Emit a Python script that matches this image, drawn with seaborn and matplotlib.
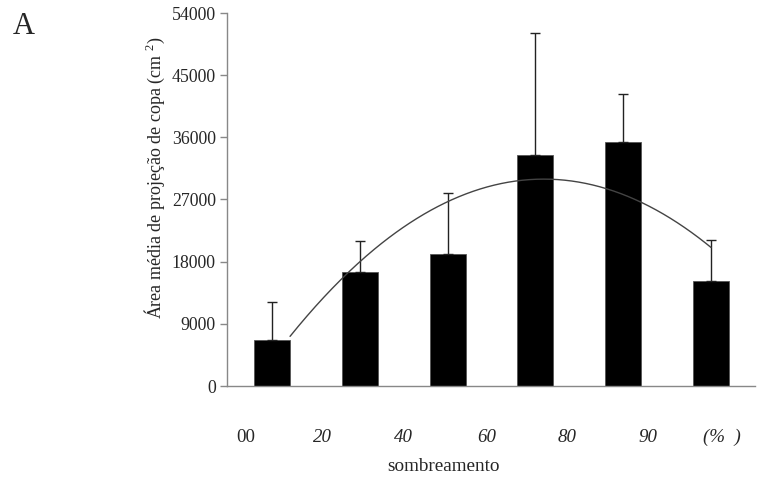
import numpy as np
import pandas as pd
import matplotlib
matplotlib.use("Agg")
import matplotlib.pyplot as plt
import seaborn as sns

# ---- data ----
categories = ["00", "20", "40", "60", "80", "90"]
means = [6660, 16500, 19100, 33450, 35300, 15200]
upper = [12160, 21000, 27900, 51100, 42300, 21100]
yticks = [0, 9000, 18000, 27000, 36000, 45000, 54000]
italic_labels = [False, True, True, True, True, True]
unit_label = "(%  )"

sns.set_theme(style="white")
plt.rcParams["font.family"] = ["Liberation Serif", "DejaVu Serif"]
plt.rcParams["mathtext.fontset"] = "custom"
plt.rcParams["mathtext.rm"] = "Liberation Serif"
plt.rcParams["mathtext.it"] = "Liberation Serif:italic"

W, H = 772, 486
fig = plt.figure(figsize=(W / 100, H / 100), dpi=100)
ax = fig.add_axes([227 / W, 1 - 386 / H, (755 - 227) / W, (386 - 13) / H])

df = pd.DataFrame({"cat": categories, "mean": means})
sns.barplot(data=df, x="cat", y="mean", color="black", width=0.41,
            edgecolor="#555555", linewidth=0.6, errorbar=None, ax=ax,
            saturation=1)

xpos = np.arange(len(categories))
m = np.array(means)
err_up = np.array(upper) - m
ax.errorbar(xpos, m, yerr=[np.zeros_like(m), err_up], fmt="none",
            ecolor="#222222", elinewidth=1.0, capsize=3.5, capthick=1.0)

# polynomial (order 2) trend line fitted to the means
coef = np.polyfit(xpos, m, 2)
xs = np.linspace(0.205, 5.0, 300)
ax.plot(xs, np.polyval(coef, xs), color="#444444", lw=1.0)

ax.set_xlim(-0.513, 5.5)
ax.set_ylim(0, 54000)
ax.set_yticks(yticks)
ax.set_yticklabels([str(v) for v in yticks], fontsize=12.8)
ax.set_xticks([])
ax.set_xlabel("")
ax.set_ylabel("")
for s in ["top", "right"]:
    ax.spines[s].set_visible(False)
for s in ["left", "bottom"]:
    ax.spines[s].set_color("#888888")
    ax.spines[s].set_linewidth(1.0)
ax.tick_params(axis="y", direction="out", length=5, width=1,
               color="#888888", pad=3, left=True)

# category labels below axis
label_px = [246, 322, 403, 487, 567, 648]
for lab, px, it in zip(categories, label_px, italic_labels):
    fig.text(px / W, 1 - 437 / H, lab, ha="center", va="center",
             fontsize=13.6, style="italic" if it else "normal")
fig.text(722 / W, 1 - 437 / H, unit_label, ha="center", va="center",
         fontsize=13.6, style="italic")

fig.text(443 / W, 1 - 466 / H, "sombreamento", ha="center", va="center",
         fontsize=13.8)
fig.text(155 / W, 1 - 178 / H,
         "Área média de projeção de copa (cm $^{2}$)",
         rotation=90, ha="center", va="center", fontsize=13)
fig.text(24 / W, 1 - 27 / H, "A", ha="center", va="center", fontsize=22)

fig.savefig("out.png", dpi=100)
